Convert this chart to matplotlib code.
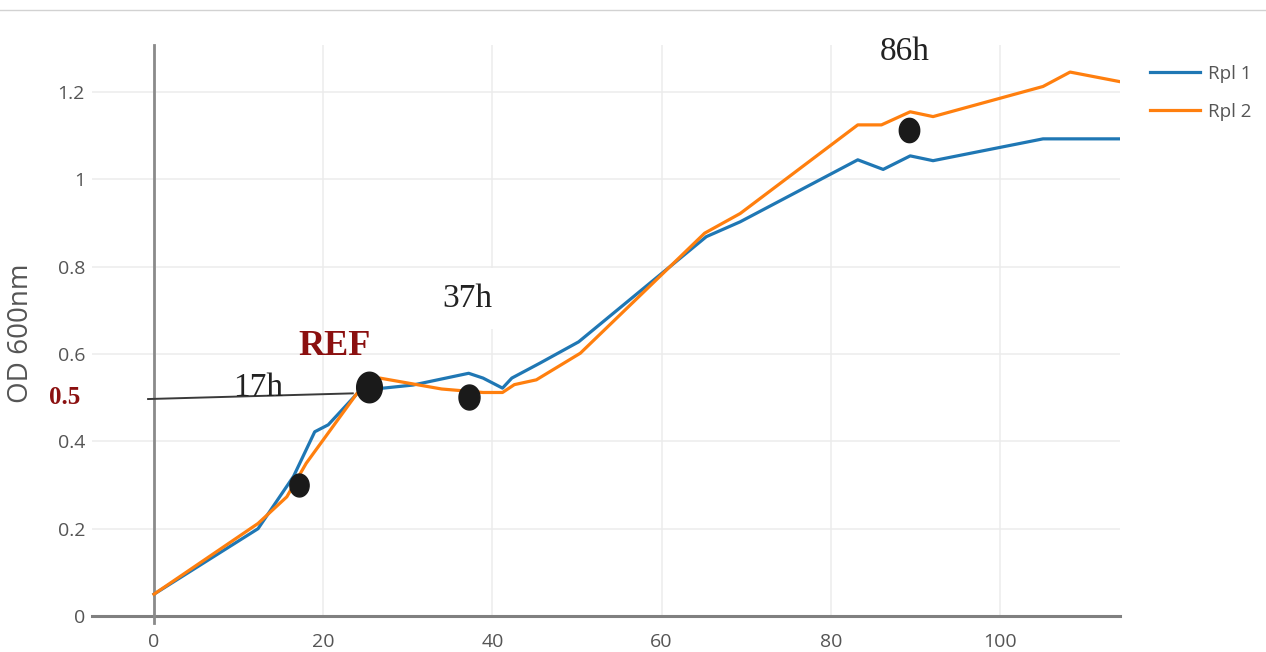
import numpy as np
import matplotlib
matplotlib.use("Agg")
import matplotlib.pyplot as plt
from matplotlib.lines import Line2D
from matplotlib.path import Path
from matplotlib.transforms import blended_transform_factory

# ---------------- data ----------------
rpl1_t = [0, 12.3, 16.5, 19.0, 20.6, 25.0, 27.1, 30.6, 37.2, 38.9, 41.2, 42.3,
          45.6, 50.2, 65.3, 69.3, 83.2, 86.2, 89.4, 92.1, 105.1, 114.2]
rpl1_od = [0.05, 0.20, 0.32, 0.422, 0.438, 0.53, 0.522, 0.529, 0.556, 0.545, 0.522,
           0.545, 0.579, 0.628, 0.869, 0.903, 1.045, 1.023, 1.054, 1.043, 1.093, 1.093]

rpl2_t = [0, 12.3, 15.7, 18.0, 24.0, 26.7, 34.0, 38.9, 41.2, 42.6, 45.2, 50.4,
          65.1, 69.3, 83.2, 86.0, 89.4, 92.1, 105.1, 108.3, 114.2]
rpl2_od = [0.05, 0.212, 0.273, 0.35, 0.51, 0.545, 0.52, 0.512, 0.512, 0.53, 0.541,
           0.602, 0.877, 0.922, 1.125, 1.125, 1.155, 1.144, 1.213, 1.246, 1.224]

series_names = ["Rpl 1", "Rpl 2"]

sample_t = [17.1, 25.4, 37.2, 89.3]
sample_od = [0.30, 0.525, 0.502, 1.113]

hour_labels = ["17h", "37h", "86h"]
hour_label_t = [12.3, 37.0, 88.8]
hour_label_od = [0.503, 0.708, 1.274]

ref_label = "REF"
ref_label_t = 21.4
ref_label_od = 0.598

threshold = 0.5
threshold_line_t = [-0.7, 23.5]
threshold_line_od = [0.497, 0.51]

xticks = [0, 20, 40, 60, 80, 100]
yticks = [0, 0.2, 0.4, 0.6, 0.8, 1.0, 1.2]
yticklabels = ["0", "0.2", "0.4", "0.6", "0.8", "1", "1.2"]
ylabel = "OD 600nm"

# ---------------- figure ----------------
W, H = 1266, 652
fig = plt.figure(figsize=(W / 100, H / 100), dpi=100)
fig.patch.set_facecolor("white")

ax_l, ax_r, ax_t, ax_b = 92, 1120, 45, 616
ax = fig.add_axes([ax_l / W, 1 - ax_b / H, (ax_r - ax_l) / W, (ax_b - ax_t) / H])
ax.set_xlim(-7.33, 114.2)
ax.set_ylim(0, 1.308)

for s in ax.spines.values():
    s.set_visible(False)

sans = ["Open Sans", "DejaVu Sans"]
serif = ["Liberation Serif", "DejaVu Serif"]
tick_color = "#555555"

ax.set_xticks(xticks)
ax.set_yticks(yticks)
ax.set_yticklabels(yticklabels)
ax.tick_params(axis="both", length=0, labelsize=14, labelcolor=tick_color)
ax.tick_params(axis="x", pad=12)
ax.tick_params(axis="y", pad=5)
for lab in ax.get_xticklabels() + ax.get_yticklabels():
    lab.set_fontfamily(sans)

ax.grid(True, color="#ececec", linewidth=1.1, zorder=0)
ax.set_axisbelow(True)

# zero lines
ax.axhline(0, color="#808080", linewidth=2.2, zorder=2, clip_on=False)
ax.axvline(0, ymin=-7 / 571, ymax=1, color="#8a8a8a", linewidth=2.0, zorder=2, clip_on=False)

ax.set_ylabel(ylabel, fontsize=20, color=tick_color, family=sans, va="center")
ax.yaxis.set_label_coords((21 - ax_l) / (ax_r - ax_l), (ax_b - 333) / (ax_b - ax_t))

# series
ax.plot(rpl1_t, rpl1_od, color="#1f77b4", linewidth=2.3, label=series_names[0], zorder=3)
ax.plot(rpl2_t, rpl2_od, color="#ff7f0e", linewidth=2.3, label=series_names[1], zorder=3)

# threshold line
ax.plot(threshold_line_t, threshold_line_od, color="#3a3a3a", linewidth=1.4, zorder=4,
        clip_on=False)

# sample dots (slightly elliptical)
theta = np.linspace(0, 2 * np.pi, 60)
ell = Path(np.column_stack([0.42 * np.cos(theta), 0.5 * np.sin(theta)]))
dot_sizes = [16.5, 22, 18, 17.5]
for t, od, ms in zip(sample_t, sample_od, dot_sizes):
    ax.plot([t], [od], linestyle="none", marker=ell, markersize=ms,
            color="#1a1a1a", zorder=5)

# hour labels
for txt, t, od in zip(hour_labels, hour_label_t, hour_label_od):
    kw = {}
    if txt == "37h":
        kw["bbox"] = dict(boxstyle="square,pad=0.45", facecolor="white", edgecolor="none")
    ax.text(t, od, txt, fontsize=24, family=serif, color="#222222",
            ha="center", va="baseline", zorder=4, clip_on=False, **kw)

ax.text(ref_label_t, ref_label_od, ref_label, fontsize=26, family=serif,
        fontweight="bold", color="#8b1010", ha="center", va="baseline", zorder=4)

trans = blended_transform_factory(ax.transAxes, ax.transData)
ax.text((65 - ax_l) / (ax_r - ax_l), threshold, f"{threshold:g}", transform=trans,
        fontsize=18, family=serif, fontweight="bold", color="#8b1010",
        ha="center", va="center", clip_on=False)

# legend
leg = ax.legend(loc="upper left", bbox_to_anchor=(1150 / W, 1 - 65 / H),
                bbox_transform=fig.transFigure, frameon=False,
                handlelength=2.67, handletextpad=0.45, labelspacing=1.05,
                borderpad=0, borderaxespad=0, prop={"family": sans, "size": 13.5})
for t in leg.get_texts():
    t.set_color(tick_color)

# top border line
fig.add_artist(Line2D([0, 1], [1 - 9.5 / H, 1 - 9.5 / H], transform=fig.transFigure,
                      color="#d2d2d2", linewidth=1.0))

fig.savefig("out.png", dpi=100, facecolor="white")
